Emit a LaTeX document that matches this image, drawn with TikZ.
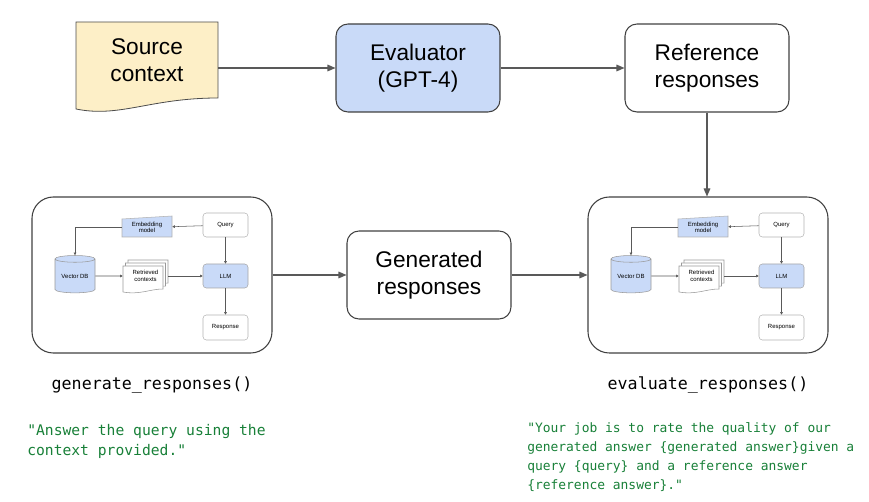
\documentclass[tikz,border=0pt]{standalone}
\usepackage{fontspec}
\setmainfont{Liberation Sans}
\setmonofont{DejaVu Sans Mono}
\usepackage{tikz}
\usetikzlibrary{arrows.meta}
\usetikzlibrary{shapes.geometric}

\definecolor{docyellow}{HTML}{FDEFC7}
\definecolor{llmblue}{HTML}{C9DAF8}
\definecolor{edgegray}{HTML}{595959}
\definecolor{promptgreen}{HTML}{188038}

\begin{document}
\begin{tikzpicture}[x=0.75pt,y=-0.75pt]
	    \tikzstyle{block}=[draw=black!75,line width=0.8pt,rounded corners=9pt,minimum width=123pt,minimum height=66pt,align=center,font=\fontsize{17}{20}\selectfont]
	    \tikzstyle{stage}=[draw=black!75,line width=0.8pt,rounded corners=16pt,minimum width=180pt,minimum height=117pt]
	    \tikzstyle{small}=[draw=black!30,line width=0.4pt,rounded corners=2.5pt,minimum width=33.75pt,minimum height=18pt,inner sep=0pt,align=center,font=\fontsize{4.5}{5}\selectfont]
	    \tikzstyle{tinytext}=[inner sep=0pt,align=center,font=\fontsize{4.5}{5}\selectfont]
	    \tikzstyle{arr}=[draw=edgegray,line width=0.8pt,-{Triangle[length=6pt,width=5pt]}]
	    \tikzstyle{tinyarr}=[draw=edgegray,line width=0.4pt,-{Triangle[length=2pt,width=2pt]}]
	    \tikzstyle{fname}=[font=\ttfamily\fontsize{12.5}{15}\selectfont]
	    \tikzstyle{prompt}=[text=promptgreen,anchor=north west,inner sep=0pt,align=left]

	    \useasboundingbox (0,0) rectangle (869,502);

	    % source document
	    \draw[fill=docyellow,draw=black!70,line width=0.6pt] (76,22) -- (218,22) -- (218,98) .. controls (150,98) and (120,118) .. (76,109) -- cycle;
	    \node[align=center,inner sep=0pt,minimum width=106.5pt,font=\fontsize{17}{20}\selectfont] (src) at (147,60){Source\\context};

	    \node[block,fill=llmblue](eval) at (418,68){Evaluator\\(GPT-4)};
	    \node[block](ref) at (707,68){Reference\\responses};

	    \node[stage](genstage) at (152,275){};
	    \node[block](gen) at (429,275){Generated\\responses};
	    \node[stage](evalstage) at (708,275){};

	    \draw[arr] (src.east |- eval.west) -- (eval.west);
	    \draw[arr] (eval) -- (ref);
	    \draw[arr] (ref.south) -- (ref.south |- evalstage.north);
	    \draw[arr] (genstage) -- (gen);
	    \draw[arr] (gen) -- (evalstage);

	    % the rag pipeline, once in each stage
	    \foreach \s/\dx in {g/0,e/556}{
	    \begin{scope}[shift={(\dx,0)}]
	        \draw[fill=llmblue,draw=black!30,line width=0.4pt] (122,219) -- (172,216) -- (172,237) -- (122,237) -- cycle;
	        \node[tinytext,minimum width=37.5pt,minimum height=15pt](emb\s) at (147,227.5){Embedding\\model};
	        \node[small](qry\s) at (225.5,225){Query};
	        \node[small,fill=llmblue,draw=black!35](llm\s) at (225.5,276){LLM};
	        \node[small,minimum height=18.75pt](resp\s) at (225.5,327.5){Response};
	        \node[cylinder,shape border rotate=90,aspect=0.25,draw=black!40,line width=0.4pt,fill=llmblue,minimum width=30pt,minimum height=28pt,inner sep=0pt,font=\fontsize{4.5}{5}\selectfont](vdb\s) at (75,276){Vector DB};
	        \foreach \o in {2,1,0}
	            \draw[fill=white,draw=black!40,line width=0.4pt,shift={(2.5*\o,-3*\o)}] (123,266) -- (163,266) -- (163,289) .. controls (150,289) and (140,295) .. (123,292) -- cycle;
	        \node[tinytext,minimum width=33.75pt,minimum height=19.5pt](ret\s) at (145.5,276){Retrieved\\contexts};

	        \draw[tinyarr] (qry\s) -- (emb\s);
	        \draw[tinyarr] (emb\s.west) -| (vdb\s.north);
	        \draw[tinyarr] (vdb\s.east) -- (ret\s.west);
	        \draw[tinyarr] (ret\s.east) -- (llm\s.west);
	        \draw[tinyarr] (qry\s) -- (llm\s);
	        \draw[tinyarr] (llm\s) -- (resp\s);
	    \end{scope}
	    }

	    \node[fname](genfn) at (152,385){generate\_responses()};
	    \node[fname](evalfn) at (708,385){evaluate\_responses()};

	    \node[prompt,font=\ttfamily\fontsize{11}{15}\selectfont](genprompt) at (27,424){"Answer the query using the\\context provided."};
	    \node[prompt,font=\ttfamily\fontsize{9.7}{14.25}\selectfont](evalprompt) at (527,422){"Your job is to rate the quality of our\\generated answer \{generated answer\}given a\\query \{query\} and a reference answer\\\{reference answer\}."};
\end{tikzpicture}
\end{document}
